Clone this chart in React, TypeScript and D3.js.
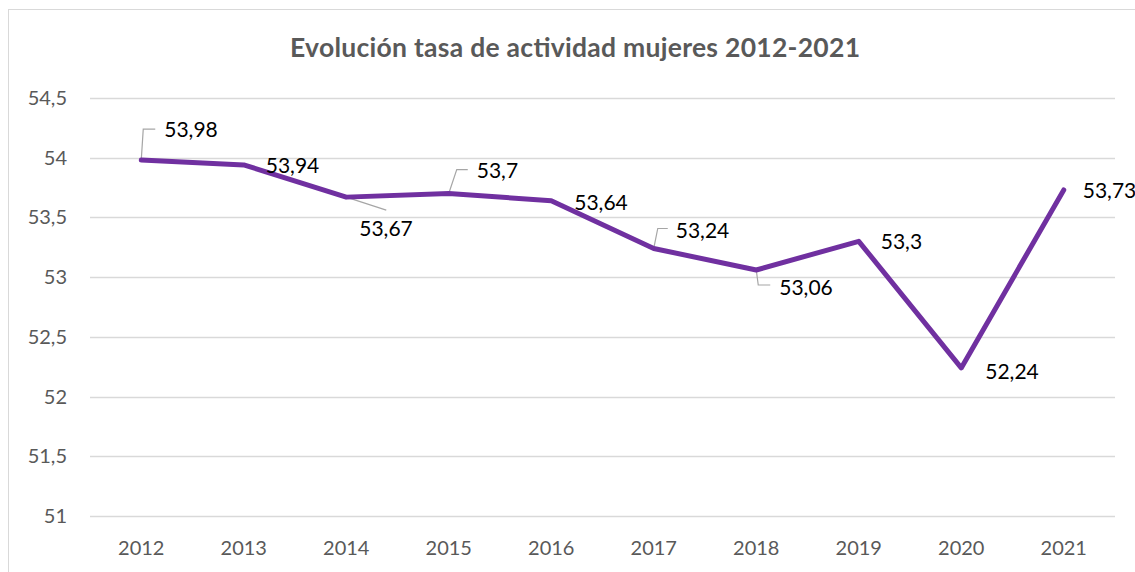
import React from "react";
import * as d3 from "d3";

const years = ["2012", "2013", "2014", "2015", "2016", "2017", "2018", "2019", "2020", "2021"];
const values = [53.98, 53.94, 53.67, 53.7, 53.64, 53.24, 53.06, 53.3, 52.24, 53.73];
const yTicks = [51, 51.5, 52, 52.5, 53, 53.5, 54, 54.5];
const title = "Evolución tasa de actividad mujeres 2012-2021";

// label layout: offset of text (left, baseline) relative to point, and optional leader polyline
const labelOffsets: [number, number][] = [
  [23, -23], [22, 8], [13, 39], [28, -16], [23, 9], [22, -10], [23, 25], [22, 8], [24, 11], [19, 8],
];
const leaders: ([number, number][] | null)[] = [
  [[0, 0], [2, -31], [14, -31]],
  null,
  [[0, 0], [40, 13]],
  [[0, 0], [8, -24], [19, -24]],
  null,
  [[0, 0], [4, -20], [14, -20]],
  [[0, 0], [2, 15], [14, 15]],
  null,
  null,
  null,
];

const W = 1135;
const H = 572;
const fmt = (v: number) => String(v).replace(".", ",");

export default function App() {
  const x = d3.scaleBand<string>().domain(years).range([90, 1115]);
  const y = d3.scaleLinear().domain([51, 54.5]).range([516, 98]);
  const px = (i: number) => (x(years[i]) as number) + x.bandwidth() / 2;
  const line = d3
    .line<number>()
    .x((_, i) => px(i))
    .y((d) => y(d));
  const font = "Lato, 'Open Sans', sans-serif";
  return (
    <svg
      width={W}
      height={H}
      style={{ position: "absolute", left: 0, top: 0, background: "#fff" }}
      fontFamily={font}
    >
      <rect x={8.5} y={9.5} width={W + 10} height={H + 10} fill="#fff" stroke="#d9d9d9" strokeWidth={1} />
      <text
        x={575}
        y={57}
        textAnchor="middle"
        fontSize={26.5}
        fontWeight={700}
        fill="#595959"
        textLength={570}
        lengthAdjust="spacing"
      >
        {title}
      </text>
      {yTicks.map((t) => (
        <g key={t}>
          <line x1={90} x2={1115} y1={Math.round(y(t)) + 0.5} y2={Math.round(y(t)) + 0.5} stroke="#d9d9d9" strokeWidth={1.3} />
          <text x={67} y={y(t)} dy="0.35em" textAnchor="end" fontSize={20} fill="#595959">
            {fmt(t)}
          </text>
        </g>
      ))}
      {years.map((yr, i) => (
        <text key={yr} x={px(i)} y={555} textAnchor="middle" fontSize={20} fill="#595959">
          {yr}
        </text>
      ))}
      {leaders.map((l, i) =>
        l ? (
          <polyline
            key={"l" + i}
            points={l.map(([dx, dy]) => `${px(i) + dx},${y(values[i]) + dy}`).join(" ")}
            fill="none"
            stroke="#a6a6a6"
            strokeWidth={1.2}
          />
        ) : null
      )}
      <path d={line(values) as string} fill="none" stroke="#7030A0" strokeWidth={5} strokeLinejoin="round" strokeLinecap="round" />
      {values.map((v, i) => (
        <text key={"t" + i} x={px(i) + labelOffsets[i][0]} y={y(v) + labelOffsets[i][1]} fontSize={21} fill="#000">
          {fmt(v)}
        </text>
      ))}
    </svg>
  );
}
